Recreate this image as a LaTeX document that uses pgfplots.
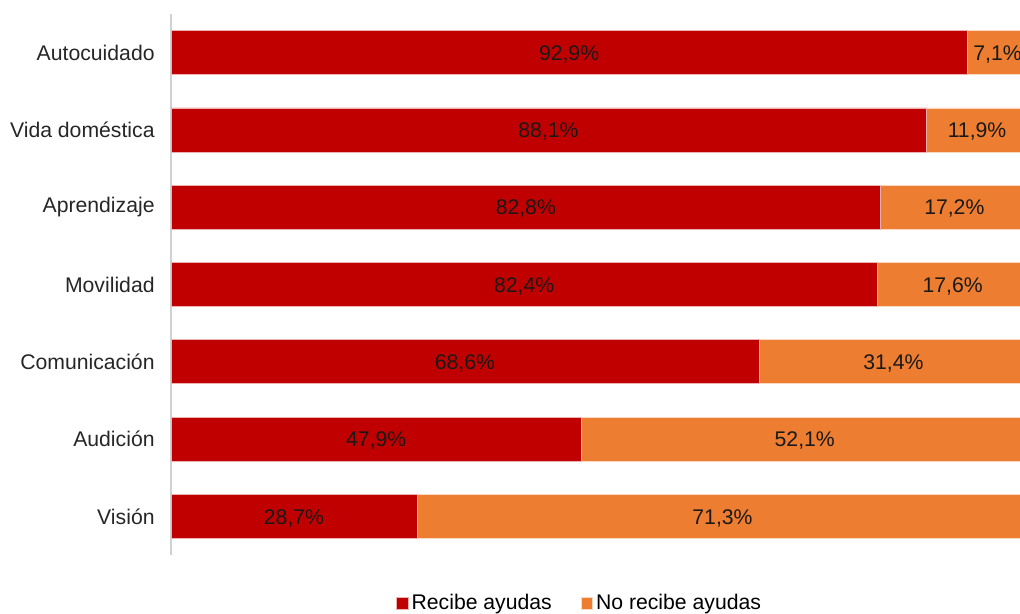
\documentclass[border=0pt]{standalone}
\usepackage{fontspec}
\setmainfont{Liberation Sans}
\usepackage{pgfplots}
\usepackage{pgfplotstable}
\pgfplotsset{compat=1.18}

\definecolor{rojo}{HTML}{C00000}
\definecolor{naranja}{HTML}{ED7D31}

% idx 0 = bottom bar
\pgfplotstableread[col sep=comma]{
cat,idx,rec,no
Visión,0,28.7,71.3
Audición,1,47.9,52.1
Comunicación,2,68.6,31.4
Movilidad,3,82.4,17.6
Aprendizaje,4,82.8,17.2
Vida doméstica,5,88.1,11.9
Autocuidado,6,92.9,7.1
}\datos

\pgfplotsset{
    base/.style={
        scale only axis,
        width=428.5pt,
        height=270.5pt,
        xmin=0, xmax=100,
        ymin=-0.5, ymax=6.5,
        enlargelimits=false,
        clip=false,
    },
}

\begin{document}
\begin{tikzpicture}[font=\fontsize{10.6}{12.7}\selectfont]
\begin{axis}[
    base,
    xbar stacked,
    bar width=22pt,
    axis x line=none,
    axis y line*=left,
    y axis line style={draw=black!18, line width=0.8pt},
    ytick={0,...,6},
    yticklabels from table={\datos}{cat},
    ytick style={draw=none},
    major tick length=0pt,
    yticklabel style={inner sep=0pt, xshift=-8pt, text=black!85},
    legend columns=2,
    legend style={at={(0.4775,-0.0896)}, anchor=center, draw=none, fill=none,
        font=\fontsize{10.6}{12.7}\selectfont,
        nodes={inner xsep=1.5pt},
        /tikz/every even column/.append style={column sep=13pt},
        cells={anchor=west}},
    legend image code/.code={\fill[#1] (0pt,-2.9pt) rectangle (5.8pt,2.9pt);},
]
\addplot[fill=rojo, draw=white!70!rojo, line width=0.3pt] table[x=rec, y=idx] {\datos};
\addplot[fill=naranja, draw=white!70!naranja, line width=0.3pt] table[x=no, y=idx] {\datos};
\legend{Recibe ayudas, No recibe ayudas}
\end{axis}

% value labels, centred in each segment
\begin{axis}[
    base,
    hide axis,
    nodes near coords,
    nodes near coords align=center,
    every node near coord/.append style={text=black!90, yshift=-0.8pt,
        font=\fontsize{10.6}{12.7}\selectfont},
    nodes near coords={\pgfmathprintnumber{\pgfplotspointmeta}\%},
    /pgf/number format/.cd, use comma, fixed, precision=1, fixed zerofill, assume math mode=true,
]
\addplot[only marks, mark=none, point meta=\thisrow{rec}]
    table[x expr=\thisrow{rec}/2, y=idx] {\datos};
\addplot[only marks, mark=none, point meta=\thisrow{no}]
    table[x expr=\thisrow{rec}+\thisrow{no}/2, y=idx] {\datos};
\end{axis}

\pgfresetboundingbox
\path[use as bounding box] (-85.5pt,-29.5pt) rectangle (424.5pt,277.5pt);
\end{tikzpicture}
\end{document}
